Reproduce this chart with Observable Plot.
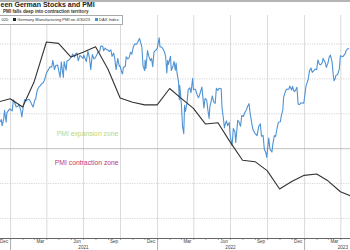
<!DOCTYPE html>
<html>
<head>
<meta charset="utf-8">
<script src="https://cdn.jsdelivr.net/npm/d3@7"></script>
<script src="https://cdn.jsdelivr.net/npm/@observablehq/plot@0.6"></script>
<style>
  html, body { margin: 0; padding: 0; background: #fff; }
  body { width: 350px; height: 250px; overflow: hidden; position: relative; font-family: "Liberation Sans", Arial, sans-serif; }
  #chart { position: absolute; left: 0; top: 0; }
  #topline { position: absolute; left: 0; top: 0; width: 350px; height: 1.5px; background: #b4b4b4; }
  #title { position: absolute; left: 0.5px; top: 0.5px; font-weight: bold; font-size: 7px; color: #222; white-space: nowrap; }
  #subtitle { position: absolute; left: 3px; top: 8.5px; font-weight: bold; font-size: 4.6px; color: #333; white-space: nowrap; }
  #legend { position: absolute; left: -1px; top: 14.5px; height: 8px; padding: 0 3px 0 1.5px; border: 0.6px solid #aaa; background: #fff; font-size: 4.1px; color: #333; white-space: nowrap; display: flex; align-items: center; gap: 1.4px; }
  .sw { display: inline-block; width: 3.2px; height: 3.2px; margin-left: 3px; }
</style>
</head>
<body>
<div id="chart"></div>
<div id="topline"></div>
<div id="title">een German Stocks and PMI</div>
<div id="subtitle">PMI falls deep into contraction territory</div>
<div id="legend"><span>020</span><span class="sw" style="background:#222"></span><span>Germany Manufacturing PMI on 4/30/23</span><span class="sw" style="background:#4a90d2"></span><span>DAX Index</span></div>
<script>
// Germany manufacturing PMI (monthly, plotted at month end)
const pmiDates = ["2020-11-30","2020-12-31","2021-01-31","2021-02-28","2021-03-31","2021-04-30","2021-05-31","2021-06-30","2021-07-31","2021-08-31","2021-09-30","2021-10-31","2021-11-30","2021-12-31","2022-01-31","2022-02-28","2022-03-31","2022-04-30","2022-05-31","2022-06-30","2022-07-31","2022-08-31","2022-09-30","2022-10-31","2022-11-30","2022-12-31","2023-01-31","2023-02-28","2023-03-31","2023-04-30"];
const pmiValues = [57.8,58.3,57.1,60.7,66.6,66.4,64.4,65.1,65.9,62.6,58.4,57.8,57.4,57.4,59.8,58.4,56.9,54.6,54.8,52.0,49.3,49.1,47.8,45.1,46.2,47.1,47.3,46.3,44.7,44.0];

// DAX index closes
const daxDates = ["2020-12-07","2020-12-09","2020-12-11","2020-12-15","2020-12-17","2020-12-21","2020-12-23","2020-12-30","2021-01-05","2021-01-08","2021-01-12","2021-01-15","2021-01-19","2021-01-22","2021-01-27","2021-01-29","2021-02-02","2021-02-05","2021-02-09","2021-02-12","2021-02-16","2021-02-19","2021-02-23","2021-02-26","2021-03-02","2021-03-04","2021-03-08","2021-03-12","2021-03-16","2021-03-19","2021-03-23","2021-03-26","2021-03-31","2021-04-07","2021-04-09","2021-04-13","2021-04-16","2021-04-20","2021-04-23","2021-04-28","2021-04-30","2021-05-04","2021-05-07","2021-05-12","2021-05-14","2021-05-19","2021-05-21","2021-05-25","2021-05-28","2021-06-02","2021-06-04","2021-06-09","2021-06-11","2021-06-15","2021-06-18","2021-06-22","2021-06-25","2021-06-30","2021-07-02","2021-07-08","2021-07-12","2021-07-16","2021-07-19","2021-07-23","2021-07-27","2021-07-30","2021-08-04","2021-08-06","2021-08-10","2021-08-13","2021-08-18","2021-08-20","2021-08-24","2021-08-27","2021-09-01","2021-09-03","2021-09-07","2021-09-10","2021-09-14","2021-09-17","2021-09-20","2021-09-24","2021-09-28","2021-09-30","2021-10-04","2021-10-06","2021-10-08","2021-10-13","2021-10-15","2021-10-19","2021-10-22","2021-10-26","2021-10-29","2021-11-02","2021-11-05","2021-11-09","2021-11-12","2021-11-17","2021-11-19","2021-11-23","2021-11-26","2021-11-30","2021-12-01","2021-12-03","2021-12-07","2021-12-10","2021-12-14","2021-12-17","2021-12-20","2021-12-23","2021-12-31","2022-01-05","2022-01-07","2022-01-11","2022-01-14","2022-01-18","2022-01-21","2022-01-24","2022-01-26","2022-01-28","2022-02-02","2022-02-04","2022-02-08","2022-02-11","2022-02-14","2022-02-16","2022-02-18","2022-02-22","2022-02-24","2022-02-25","2022-03-01","2022-03-04","2022-03-07","2022-03-09","2022-03-11","2022-03-15","2022-03-18","2022-03-22","2022-03-25","2022-03-29","2022-03-31","2022-04-05","2022-04-08","2022-04-12","2022-04-14","2022-04-21","2022-04-26","2022-04-29","2022-05-03","2022-05-06","2022-05-09","2022-05-11","2022-05-13","2022-05-17","2022-05-20","2022-05-24","2022-05-27","2022-05-31","2022-06-03","2022-06-08","2022-06-10","2022-06-14","2022-06-16","2022-06-17","2022-06-21","2022-06-24","2022-06-28","2022-06-30","2022-07-05","2022-07-08","2022-07-12","2022-07-14","2022-07-19","2022-07-22","2022-07-26","2022-07-29","2022-08-02","2022-08-05","2022-08-10","2022-08-12","2022-08-16","2022-08-19","2022-08-23","2022-08-26","2022-08-31","2022-09-05","2022-09-09","2022-09-13","2022-09-16","2022-09-20","2022-09-23","2022-09-27","2022-09-29","2022-09-30","2022-10-04","2022-10-07","2022-10-12","2022-10-14","2022-10-18","2022-10-21","2022-10-25","2022-10-28","2022-11-02","2022-11-04","2022-11-08","2022-11-10","2022-11-15","2022-11-18","2022-11-23","2022-11-25","2022-11-30","2022-12-02","2022-12-06","2022-12-09","2022-12-13","2022-12-16","2022-12-20","2022-12-23","2022-12-30","2023-01-04","2023-01-06","2023-01-10","2023-01-13","2023-01-17","2023-01-20","2023-01-24","2023-01-27","2023-01-31","2023-02-03","2023-02-07","2023-02-10","2023-02-14","2023-02-16","2023-02-21","2023-02-24","2023-02-28","2023-03-03","2023-03-06","2023-03-10","2023-03-13","2023-03-15","2023-03-17","2023-03-20","2023-03-24","2023-03-28","2023-03-31","2023-04-04","2023-04-06","2023-04-12","2023-04-14","2023-04-18","2023-04-21"];
const daxValues = [13271,13340,13114,13362,13668,13246,13588,13719,13652,14050,13925,13788,13816,13874,13620,13433,13836,14057,14011,14050,14065,13993,13865,13786,14040,14056,14380,14502,14557,14621,14662,14749,15008,15177,15234,15216,15460,15130,15280,15292,15136,14856,15400,14851,15417,15113,15437,15465,15520,15602,15693,15581,15693,15729,15448,15636,15608,15531,15650,15421,15790,15540,15133,15669,15519,15544,15692,15761,15770,15977,15965,15808,15906,15852,15824,15781,15844,15609,15722,15490,15132,15531,15249,15260,15036,14973,15206,15250,15587,15516,15543,15757,15688,15954,16054,16040,16094,16251,16160,15937,15257,15100,15472,15170,15813,15623,15454,15531,15240,15756,15885,16271,15947,15942,15883,15773,15603,15011,15460,15318,15613,15100,15242,15425,15113,15370,15042,14693,14052,14567,13904,13094,12832,13847,13628,13918,14413,14473,14306,14820,14415,14424,14284,14124,14164,14502,13757,14098,14039,13674,13381,13828,13928,14185,13982,13919,14462,14388,14460,14445,13762,13304,13038,13127,13292,13118,13231,12784,12401,13015,12905,12519,13308,13254,13097,13484,13449,13574,13700,13795,13910,13544,13194,12971,12835,12761,13088,13188,12741,12767,12284,12140,11976,12114,12671,12273,12172,12438,12765,12731,13053,13243,13257,13460,13689,14146,14378,14431,14428,14541,14397,14529,14343,14370,14497,13893,13885,13941,13924,14490,14610,14775,15086,15187,15033,15093,15150,15128,15476,15321,15307,15380,15534,15398,15210,15365,15578,15654,15428,14959,14735,14768,14933,14957,15143,15629,15603,15598,15703,15808,15883,15882];

// Axis / grid definitions
const xDomain = ["2020-12-07", "2023-04-25"];
const yDomain = [37.87, 70.47];                 // PMI units
const daxRange = [11976, 16271];                 // DAX values aligned to ...
const daxOnPmi = [49.71, 67.2];                  // ... these PMI-axis values
const gridTicks = [40.8, 45.9, 56.1, 61.2, 66.3];
const zoneLine = [51.0];
const quarterStarts = ["2021-01-01","2021-04-01","2021-07-01","2021-10-01","2022-01-01","2022-04-01","2022-07-01","2022-10-01","2023-01-01","2023-04-01"];
const yearStarts = ["2021-01-01","2022-01-01","2023-01-01"];
const monthLabels = ["Dec","Mar","Jun","Sep","Dec","Mar","Jun","Sep","Dec","Mar"];
const monthLabelDates = ["2020-12-16","2021-03-16","2021-06-15","2021-09-15","2021-12-16","2022-03-16","2022-06-15","2022-09-15","2022-12-16","2023-03-16"];
const yearLabels = ["2021","2022","2023"];
const yearLabelDates = ["2021-07-01","2022-07-01","2023-04-06"];
const zoneLabels = ["PMI expansion zone","PMI contraction zone"];
const zoneLabelDates = ["2021-07-11","2021-07-09"];
const zoneLabelValues = [53.2, 48.95];
const zoneColors = ["#b9d77a","#c23a6c"];

const D = s => new Date(s);
const toPmi = d3.scaleLinear().domain(daxRange).range(daxOnPmi);
const pmi = pmiDates.map((d, i) => ({date: D(d), value: pmiValues[i]}));
const dax = daxDates.map((d, i) => ({date: D(d), value: toPmi(daxValues[i])}));
const monthStarts = d3.utcMonths(D("2020-12-01"), D("2023-05-01"));

const chart = Plot.plot({
  width: 350,
  height: 250,
  marginTop: 15,
  marginBottom: 12,
  marginLeft: 0,
  marginRight: 0,
  style: {background: "transparent", overflow: "hidden"},
  x: {type: "utc", domain: xDomain.map(D), axis: null},
  y: {domain: yDomain, axis: null},
  marks: [
    Plot.ruleX(quarterStarts.map(D), {stroke: "#d6d6d6", strokeWidth: 0.9}),
    Plot.ruleY(gridTicks, {stroke: "#cfcfcf", strokeWidth: 0.9, strokeDasharray: "1.2,1.2"}),
    Plot.ruleY(zoneLine, {stroke: "#b9b9b9", strokeWidth: 0.9}),
    Plot.text(zoneLabels, {x: (d, i) => D(zoneLabelDates[i]), y: (d, i) => zoneLabelValues[i], text: d => d, fill: (d, i) => zoneColors[i], fontSize: 6.8, fontFamily: "Liberation Sans"}),
    Plot.line(dax, {x: "date", y: "value", stroke: "#4f93d4", strokeWidth: 1.1, clip: true}),
    Plot.line(pmi, {x: "date", y: "value", stroke: "#333", strokeWidth: 1.1, clip: true}),
    Plot.frame({anchor: "bottom", stroke: "#555", strokeWidth: 0.9}),
    Plot.axisX(monthStarts, {tickSize: 2, tickFormat: () => "", stroke: "#666", strokeWidth: 0.6}),
    Plot.axisX(yearStarts.map(D), {tickSize: 12, tickFormat: () => "", stroke: "#777", strokeWidth: 0.6}),
    Plot.text(monthLabels, {x: (d, i) => D(monthLabelDates[i]), text: d => d, frameAnchor: "bottom", dy: 4.5, fontSize: 4.6, fill: "#444", fontFamily: "Liberation Sans"}),
    Plot.text(yearLabels, {x: (d, i) => D(yearLabelDates[i]), text: d => d, frameAnchor: "bottom", dy: 10.5, fontSize: 4.6, fill: "#444", fontFamily: "Liberation Sans"})
  ]
});
document.getElementById("chart").appendChild(chart);
</script>
</body>
</html>
